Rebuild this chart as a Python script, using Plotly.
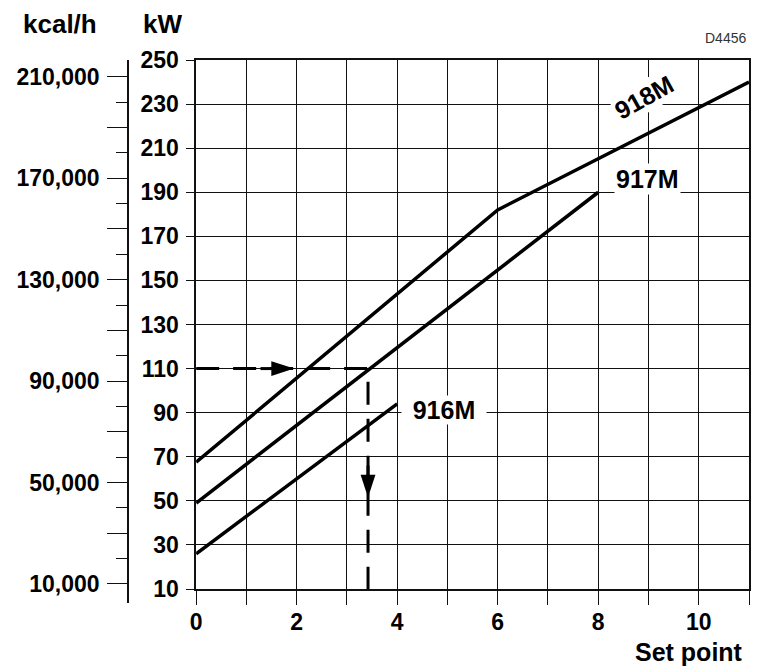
import plotly.graph_objects as go

# curves: set point -> output (kW)
sp_918 = [0, 6, 11]
kw_918 = [67.5, 182, 240]
sp_917 = [0, 8]
kw_917 = [49, 190]
sp_916 = [0, 4]
kw_916 = [26, 94]

# worked example: 110 kW on 917M -> set point 3.4
example_sp = [0, 3.42, 3.42]
example_kw = [110, 110, 10]
# arrow heads along the example path (tip position, direction)
arrow_sp = [1.95, 3.42]
arrow_kw = [110, 51.5]
arrow_angle = [90, 180]
# solid shafts leading into the arrow heads
shaft_h_sp = [1.28, 1.8]
shaft_h_kw = [110, 110]
shaft_v_sp = [3.42, 3.42]
shaft_v_kw = [66, 55]

kw_ticks = list(range(10, 251, 20))
sp_ticks = list(range(0, 12))
sp_labels = [str(v) if v % 2 == 0 else '' for v in sp_ticks]

kcal_major = list(range(10000, 210001, 20000))
kcal_labels = ['{:,}'.format(v) if (v - 10000) % 40000 == 0 else '' for v in kcal_major]
kcal_minor = list(range(20000, 200001, 20000))

FONT = "Liberation Sans, Arial, sans-serif"
INK = '#111111'

# page has an 8px body margin, so the figure is drawn 8px in from the corner
OFF = 8
W, H = 760 - OFF, 668 - OFF
L, R, T, B = 123 - OFF, 9, 60 - OFF, 65
pw = W - L - R
ph = H - T - B


# helpers taking positions measured on the screenshot
def px_x(p):
    return (p - OFF - L) / pw


def px_y(p):
    return (H - B - (p - OFF)) / ph


fig = go.Figure()
for x, y in [(sp_918, kw_918), (sp_917, kw_917), (sp_916, kw_916)]:
    fig.add_trace(go.Scatter(x=x, y=y, mode='lines', line=dict(color='black', width=3.5)))

fig.add_trace(go.Scatter(x=example_sp, y=example_kw, mode='lines',
                         line=dict(color='black', width=3, dash='23px,14px')))
fig.add_trace(go.Scatter(x=shaft_h_sp, y=shaft_h_kw, mode='lines', line=dict(color='black', width=3)))
fig.add_trace(go.Scatter(x=shaft_v_sp, y=shaft_v_kw, mode='lines', line=dict(color='black', width=3)))
fig.add_trace(go.Scatter(x=arrow_sp, y=arrow_kw, mode='markers',
                         marker=dict(symbol='arrow', size=24, angle=arrow_angle, color='black',
                                     line=dict(width=0))))

# empty trace so the kcal/h axis gets drawn
fig.add_trace(go.Scatter(x=[], y=[], xaxis='x2', yaxis='y2'))

tick_font = dict(family=FONT, size=23, color='black', weight='bold')

fig.update_layout(
    width=W, height=H,
    margin=dict(l=L, r=R, t=T, b=B),
    plot_bgcolor='white', paper_bgcolor='white',
    showlegend=False,
    xaxis=dict(
        domain=[px_x(191), 1], range=[0, 11], anchor='y',
        tickmode='array', tickvals=sp_ticks, ticktext=sp_labels,
        showgrid=True, gridcolor=INK, gridwidth=1.2, zeroline=False,
        ticks='outside', ticklen=14, tickwidth=1.2, tickcolor=INK,
        showline=True, linecolor=INK, linewidth=1.5, mirror=True,
        tickfont=tick_font, ticklabelstandoff=-2,
    ),
    yaxis=dict(
        domain=[px_y(589), 1], range=[10, 250], anchor='x',
        tickmode='array', tickvals=kw_ticks,
        showgrid=True, gridcolor=INK, gridwidth=1.2, zeroline=False,
        ticks='outside', ticklen=8, tickwidth=1.2, tickcolor=INK,
        showline=True, linecolor=INK, linewidth=1.5, mirror=True,
        tickfont=tick_font, ticklabelstandoff=3,
    ),
    xaxis2=dict(domain=[0, 0.04], visible=False, anchor='y2'),
    yaxis2=dict(
        domain=[0, 1], range=[2500, 216600], anchor='x2', side='left',
        tickmode='array', tickvals=kcal_major, ticktext=kcal_labels,
        showgrid=False, zeroline=False,
        ticks='outside', ticklen=20, tickwidth=1.2, tickcolor=INK,
        minor=dict(tickmode='array', tickvals=kcal_minor, ticks='outside', ticklen=11,
                   tickwidth=1.2, tickcolor=INK, showgrid=False),
        showline=True, linecolor=INK, linewidth=1.5,
        tickfont=tick_font, ticklabelstandoff=3,
    ),
)

# curve labels
label_font = dict(family=FONT, size=25, color='black', weight='bold')
fig.add_annotation(x=8.92, y=233, text='918M', showarrow=False, textangle=-29,
                   font=label_font, bgcolor='white', borderpad=1)
fig.add_annotation(x=8.98, y=196, text='917M', showarrow=False,
                   font=label_font, bgcolor='white', borderpad=1)
fig.add_annotation(x=4.93, y=91.4, text='916M', showarrow=False, width=84,
                   font=label_font, bgcolor='white', borderpad=0)

# axis titles and drawing number
title_font = dict(family=FONT, size=26, color='black', weight='bold')
fig.add_annotation(x=px_x(53), y=px_y(24), xref='paper', yref='paper', text='kcal/h',
                   showarrow=False, font=title_font, xanchor='center', yanchor='middle')
fig.add_annotation(x=px_x(157), y=px_y(24), xref='paper', yref='paper', text='kW',
                   showarrow=False, font=title_font, xanchor='center', yanchor='middle')
fig.add_annotation(x=px_x(747), y=px_y(652), xref='paper', yref='paper', text='Set point',
                   showarrow=False, font=dict(family=FONT, size=25, color='black', weight='bold'),
                   xanchor='right', yanchor='middle')
fig.add_annotation(x=px_x(750), y=px_y(38), xref='paper', yref='paper', text='D4456',
                   showarrow=False, font=dict(family=FONT, size=14, color='#333333'),
                   xanchor='right', yanchor='middle')

fig.write_html("out.html")
